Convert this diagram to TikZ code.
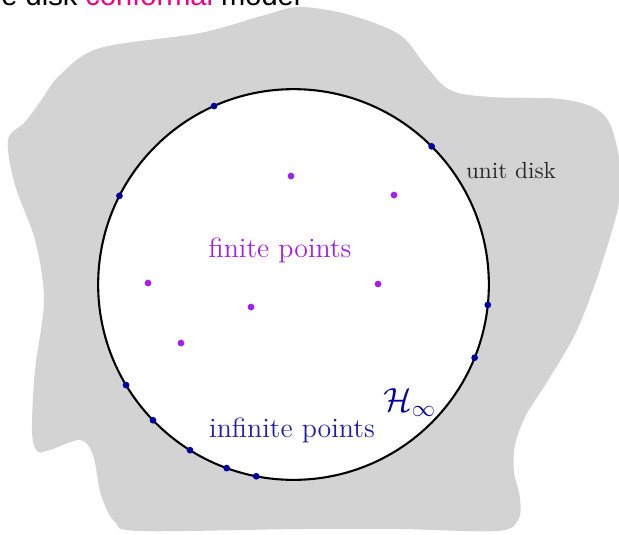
\documentclass[tikz,border=0pt]{standalone}
\usepackage{amsmath,amssymb,xcolor,fontspec}
\usetikzlibrary{positioning}
\newfontfamily\headfont{Liberation Sans}
\definecolor{blob}{RGB}{211,211,211}
\definecolor{infblue}{RGB}{0,0,160}
\definecolor{inftext}{RGB}{30,30,165}
\definecolor{finpurple}{RGB}{160,32,240}
\definecolor{hotpink}{RGB}{240,0,130}
\begin{document}
\begin{tikzpicture}[x=0.43pt,y=-0.43pt,
 infdot/.style={circle,fill=infblue,inner sep=0pt,minimum size=2.9pt},
 findot/.style={circle,fill=finpurple,inner sep=0pt,minimum size=2.9pt},
 lbl/.style={inner sep=0pt,font=\large}]
\useasboundingbox (0,0) rectangle (619,534);
\clip (0,0) rectangle (619,534);
% the grey region round the disk
\fill[blob] plot[smooth cycle,tension=0.55] coordinates {
 (8,140) (25,122) (40,102) (60,75) (100,48) (200,33) (265,15) (300,7)
 (350,15) (400,35) (425,65) (450,90) (490,97) (560,99) (598,110) (614,135)
 (621,190) (603,260) (577,330) (547,382) (526,415) (515,445) (514,472)
 (520,498) (518,520) (497,531) (400,529) (300,529) (140,531) (115,522) (101,495) (93,455)
 (80,440) (50,450) (37,451) (32,430) (35,370) (44,300) (35,240) (15,185)};
\node[anchor=base west,inner sep=0pt,font=\headfont\fontsize{12.5pt}{15pt}\selectfont] (head) at (1,5)
 {e disk \textcolor{hotpink}{conformal} model};
\node[circle,draw,fill=white,line width=0.9pt,minimum size=168pt,inner sep=0pt,outer sep=0pt] (disk) at (293.5,284.5) {};
% points on the boundary
\foreach \a [count=\i] in {114.3,45.2,153.8,-6,-22.2,211.6,224,238,250.1,259.8}
 \node[infdot] (inf\i) at (disk.\a) {};
% points inside
\foreach \p [count=\i] in {(291,176),(394,195),(148,283),(251,307),(378,284),(181,343)}
 \node[findot] (fin\i) at \p {};
\node[lbl,text=finpurple] (finlbl) at (280,250) {finite points};
\node[lbl,text=inftext] (inflbl) at (292,430) {infinite points};
\node[inner sep=0pt,text=infblue,font=\Large] (hinf) at (410,403) {$\mathcal{H}_\infty$};
\node[inner sep=0pt,text=black!85] (unit) at (511,171) {unit disk};
\end{tikzpicture}
\end{document}
